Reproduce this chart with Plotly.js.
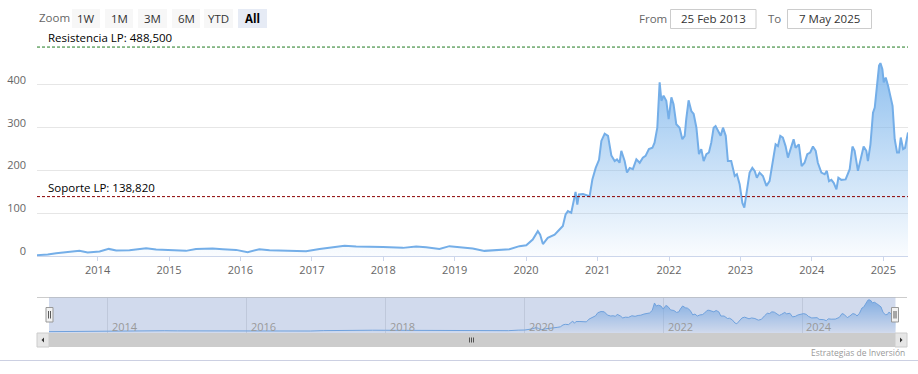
<!DOCTYPE html>
<html>
<head>
<meta charset="utf-8">
<script src="https://cdn.plot.ly/plotly-3.0.1.min.js"></script>
<style>
html,body{margin:0;padding:0;background:#fff;}
#chart{width:918px;height:374px;}
</style>
</head>
<body>
<div id="chart"></div>
<script>
// ---------- DATA ----------
const dates = ['2013-02-25','2013-04-21','2013-06-03','2013-08-10','2013-09-30','2013-11-11','2014-01-11','2014-02-27','2014-04-06','2014-06-13',
'2014-09-06','2014-10-27','2015-01-03','2015-03-29','2015-05-19','2015-08-12','2015-10-03','2015-12-10','2016-02-07','2016-04-07',
'2016-05-29','2016-09-08','2016-12-02','2017-02-09','2017-04-18','2017-06-17','2017-08-15','2017-10-23','2017-12-30','2018-04-11',
'2018-06-18','2018-08-08','2018-10-15','2018-12-05','2019-02-11','2019-04-03','2019-06-02','2019-08-01','2019-10-08','2019-11-28',
'2020-01-02','2020-02-04','2020-03-01','2020-03-13','2020-03-27','2020-04-21','2020-05-26','2020-06-20','2020-07-07','2020-07-21',
'2020-08-02','2020-08-19','2020-08-31','2020-09-10','2020-09-19','2020-09-27','2020-10-18','2020-11-04','2020-11-21','2020-12-05',
'2020-12-22','2021-01-08','2021-01-20','2021-02-06','2021-02-23','2021-03-12','2021-03-29','2021-04-10','2021-04-23','2021-05-02',
'2021-05-19','2021-05-31','2021-06-14','2021-06-30','2021-07-18','2021-08-04','2021-08-20','2021-09-03','2021-09-20','2021-10-08',
'2021-10-19','2021-11-02','2021-11-14','2021-11-23','2021-12-04','2021-12-18','2021-12-30','2022-01-13','2022-01-24','2022-02-07',
'2022-02-24','2022-03-10','2022-03-22','2022-03-30','2022-04-11','2022-04-25','2022-05-07','2022-05-21','2022-06-03','2022-06-15',
'2022-06-27','2022-07-11','2022-07-24','2022-08-05','2022-08-17','2022-08-27','2022-09-08','2022-09-22','2022-10-04','2022-10-18',
'2022-10-29','2022-11-15','2022-12-03','2022-12-14','2022-12-28','2023-01-11','2023-01-21','2023-02-03','2023-02-17','2023-03-03',
'2023-03-15','2023-03-26','2023-04-09','2023-04-26','2023-05-14','2023-05-30','2023-06-16','2023-06-30','2023-07-12','2023-07-24',
'2023-08-06','2023-08-20','2023-09-01','2023-09-13','2023-09-30','2023-10-10','2023-10-27','2023-11-10','2023-11-25','2023-12-09',
'2023-12-24','2024-01-07','2024-01-21','2024-02-01','2024-02-19','2024-03-07','2024-03-18','2024-03-29','2024-04-10','2024-04-22',
'2024-05-06','2024-05-16','2024-05-31','2024-06-22','2024-07-13','2024-07-27','2024-08-07','2024-08-24','2024-09-06','2024-09-22',
'2024-10-06','2024-10-14','2024-10-27','2024-11-09','2024-11-18','2024-11-27','2024-12-10','2024-12-17','2024-12-27','2025-01-03',
'2025-01-13','2025-01-25','2025-02-06','2025-02-17','2025-02-28','2025-03-12','2025-03-22','2025-03-31','2025-04-12','2025-04-22','2025-05-07'];

const values = [2,3.5,6.5,9.6,12,8,10.5,16.6,13,13.6,
18.3,15,13,12,16.6,17.5,16,14.3,9,16,
13.5,13,11.2,16.6,20.6,23.7,22.2,22.2,21.3,19,
22.2,20.6,16.6,23,19,17.5,12,14.3,16,23,
25,38.6,58,50,28,42.4,50,62,70,97,
105,101,128,150,120,144,145,142,140,179,
206,225,269,286,281,235,222,226,218,246,
222,195,206,203,226,218,230,234,250,253,
265,300,406,363,375,363,320,371,355,308,
300,273,281,320,364,339,332,300,238,250,
222,238,242,265,300,304,292,281,300,281,
222,222,187,191,168,124,113,148,195,206,
199,183,195,187,164,175,226,261,257,281,
277,257,230,246,273,253,261,210,218,238,
242,256,246,218,195,191,199,175,178,171,
156,183,178,179,203,256,246,199,222,256,
246,222,261,335,347,382,445,451,437,406,
417,398,371,351,273,242,242,277,250,253,289];

const resistanceValue = 488.5;
const resistanceLabel = 'Resistencia LP: 488,500';
const supportValue = 138.82;
const supportLabel = 'Soporte LP: 138,820';
const yTicks = [0, 100, 200, 300, 400];
const xTickYears = [2014,2015,2016,2017,2018,2019,2020,2021,2022,2023,2024,2025];
const navTickYears = [2014,2016,2018,2020,2022,2024];
const zoomButtons = ['1W','1M','3M','6M','YTD','All'];
const fromDate = '25 Feb 2013';
const toDate = '7 May 2025';
const creditText = 'Estrategias de Inversión';

// ---------- LAYOUT HELPERS (pixel -> paper) ----------
const L = 37, R = 908, T = 40, B = 347;
const X = px => (px - L) / (R - L);
const Y = py => (B - py) / (B - T);
const FONT = 'Open Sans, sans-serif';

const lineColor = '#74aee8';
const grad = {type:'vertical', start:0, stop:451,
  colorscale:[[0,'rgba(124,181,236,0.04)'],[1,'rgba(124,181,236,0.85)']]};

const traces = [
  {x: dates, y: values, type:'scatter', mode:'lines', xaxis:'x', yaxis:'y',
   line:{color:lineColor, width:2}, fill:'tozeroy', fillgradient:grad, hoverinfo:'skip'},
  {x: dates, y: values, type:'scatter', mode:'lines', xaxis:'x2', yaxis:'y2',
   line:{color:lineColor, width:1}, fill:'tozeroy', fillgradient:grad, hoverinfo:'skip'}
];

const shapes = [];
const annotations = [];

// support / resistance lines
shapes.push({type:'line', xref:'paper', yref:'y', x0:0, x1:1, y0:resistanceValue, y1:resistanceValue,
  line:{color:'#1f7a1f', width:1, dash:'3px,2px'}});
shapes.push({type:'line', xref:'paper', yref:'y', x0:0, x1:1, y0:supportValue, y1:supportValue,
  line:{color:'#8b0000', width:1, dash:'3px,2px'}});
annotations.push({xref:'paper', yref:'y', x:X(46), y:resistanceValue, xanchor:'left', yanchor:'bottom', yshift:0,
  text:resistanceLabel, showarrow:false, font:{family:FONT, size:11.5, color:'#000'}});
annotations.push({xref:'paper', yref:'y', x:X(46), y:supportValue, xanchor:'left', yanchor:'bottom', yshift:0,
  text:supportLabel, showarrow:false, font:{family:FONT, size:11.5, color:'#000'}});

// range selector
annotations.push({xref:'paper', yref:'paper', x:X(37), y:Y(18), xanchor:'left', yanchor:'middle',
  text:'Zoom', showarrow:false, font:{family:FONT, size:11.5, color:'#666'}});
const btnX = [[72,100],[105,133],[138,167],[172,200],[204,233],[238,267]];
zoomButtons.forEach((b, i) => {
  const sel = (b === 'All');
  shapes.push({type:'rect', xref:'paper', yref:'paper', x0:X(btnX[i][0]), x1:X(btnX[i][1]), y0:Y(28), y1:Y(9),
    fillcolor: sel ? '#e6ebf5' : '#f7f7f7', line:{width:0}});
  annotations.push({xref:'paper', yref:'paper', x:X((btnX[i][0]+btnX[i][1])/2), y:Y(18.5), xanchor:'center', yanchor:'middle',
    text: sel ? '<b>'+b+'</b>' : b, showarrow:false, font:{family:FONT, size:11.5, color: sel ? '#000' : '#333'}});
});
// from / to inputs
annotations.push({xref:'paper', yref:'paper', x:X(637), y:Y(18.5), xanchor:'left', yanchor:'middle',
  text:'From', showarrow:false, font:{family:FONT, size:11.5, color:'#666'}});
shapes.push({type:'rect', xref:'paper', yref:'paper', x0:X(670.5), x1:X(756), y0:Y(28.5), y1:Y(9.5),
  fillcolor:'#fff', line:{color:'#cccccc', width:1}});
annotations.push({xref:'paper', yref:'paper', x:X(713), y:Y(18.5), xanchor:'center', yanchor:'middle',
  text:fromDate, showarrow:false, font:{family:FONT, size:11.5, color:'#333'}});
annotations.push({xref:'paper', yref:'paper', x:X(766), y:Y(18.5), xanchor:'left', yanchor:'middle',
  text:'To', showarrow:false, font:{family:FONT, size:11.5, color:'#666'}});
shapes.push({type:'rect', xref:'paper', yref:'paper', x0:X(787.5), x1:X(871.5), y0:Y(28.5), y1:Y(9.5),
  fillcolor:'#fff', line:{color:'#cccccc', width:1}});
annotations.push({xref:'paper', yref:'paper', x:X(829.5), y:Y(18.5), xanchor:'center', yanchor:'middle',
  text:toDate, showarrow:false, font:{family:FONT, size:11.5, color:'#333'}});

// navigator axis labels (right of each gridline, near bottom)
navTickYears.forEach(yr => annotations.push({xref:'x2', yref:'paper', x: yr + '-01-01', y:Y(326.5),
  xanchor:'left', yanchor:'middle', xshift:2, text:String(yr), showarrow:false,
  font:{family:FONT, size:11, color:'#999'}}));

// navigator outline, mask, handles
shapes.push({type:'line', xref:'paper', yref:'paper', x0:X(37), x1:X(907), y0:Y(297.5), y1:Y(297.5),
  line:{color:'#cccccc', width:1}});
shapes.push({type:'rect', xref:'paper', yref:'paper', x0:X(49), x1:X(895.5), y0:Y(333), y1:Y(297.5),
  fillcolor:'rgba(102,133,194,0.3)', line:{width:0}, layer:'above'});
[[46,53],[891.5,898.5]].forEach(h => {
  shapes.push({type:'rect', xref:'paper', yref:'paper', x0:X(h[0]), x1:X(h[1]), y0:Y(322), y1:Y(307.5),
    fillcolor:'#f2f2f2', line:{color:'#999999', width:1}});
  const c = (h[0]+h[1])/2;
  [c-1, c+1].forEach(lx => shapes.push({type:'line', xref:'paper', yref:'paper', x0:X(lx), x1:X(lx), y0:Y(318.5), y1:Y(311),
    line:{color:'#333', width:0.8}}));
});

// scrollbar
shapes.push({type:'rect', xref:'paper', yref:'paper', x0:X(37), x1:X(907), y0:Y(347), y1:Y(333),
  fillcolor:'#f2f2f2', line:{width:0}});
shapes.push({type:'rect', xref:'paper', yref:'paper', x0:X(49), x1:X(895), y0:Y(347), y1:Y(333),
  fillcolor:'#cccccc', line:{width:0}});
shapes.push({type:'rect', xref:'paper', yref:'paper', x0:X(37), x1:X(49), y0:Y(347), y1:Y(333),
  fillcolor:'#e6e6e6', line:{color:'#cccccc', width:1}});
shapes.push({type:'rect', xref:'paper', yref:'paper', x0:X(895), x1:X(907), y0:Y(347), y1:Y(333),
  fillcolor:'#e6e6e6', line:{color:'#cccccc', width:1}});
const tri = pts => 'M' + pts.map(p => X(p[0]) + ',' + Y(p[1])).join(' L') + ' Z';
shapes.push({type:'path', xref:'paper', yref:'paper', path:tri([[41.5,340],[44,337.5],[44,342.5]]),
  fillcolor:'#333', line:{width:0}});
shapes.push({type:'path', xref:'paper', yref:'paper', path:tri([[902.5,340],[900,337.5],[900,342.5]]),
  fillcolor:'#333', line:{width:0}});
[469.5, 471.5, 473.5].forEach(gx => shapes.push({type:'line', xref:'paper', yref:'paper', x0:X(gx), x1:X(gx),
  y0:Y(342.5), y1:Y(337.5), line:{color:'#333', width:0.8}}));

// bottom border line + credits
shapes.push({type:'line', xref:'paper', yref:'paper', x0:X(0), x1:X(918), y0:Y(360.5), y1:Y(360.5),
  line:{color:'#ccd0e2', width:1}});
annotations.push({xref:'paper', yref:'paper', x:X(907), y:Y(352.5), xanchor:'right', yanchor:'middle',
  text:creditText, showarrow:false, font:{family:FONT, size:8.5, color:'#999'}});

const layout = {
  width:918, height:374, autosize:false,
  margin:{l:L, r:918-R, t:T, b:374-B, pad:0},
  paper_bgcolor:'#fff', plot_bgcolor:'#fff',
  showlegend:false,
  font:{family:FONT, size:11, color:'#666'},
  xaxis:{type:'date', domain:[0,1], anchor:'y', range:[dates[0], dates[dates.length-1]],
    tickvals: xTickYears.map(y => y + '-01-01'), ticktext: xTickYears.map(String),
    ticks:'outside', ticklen:4, tickcolor:'#ccd6eb', showline:true, linecolor:'#ccd6eb', linewidth:1,
    showgrid:false, zeroline:false, tickfont:{family:FONT, size:11, color:'#666'}, fixedrange:true},
  yaxis:{domain:[(B-256)/(B-T), 1], anchor:'x', range:[0, 505],
    tickvals:yTicks, ticks:'', showgrid:true, gridcolor:'#e6e6e6', gridwidth:1, zeroline:false, showline:false,
    tickfont:{family:FONT, size:11, color:'#666'}, ticklabelstandoff:10, ticklabelshift:-5, fixedrange:true},
  xaxis2:{type:'date', domain:[X(49), X(896)], anchor:'y2', range:[dates[0], dates[dates.length-1]],
    tickvals: navTickYears.map(y => y + '-01-01'), showticklabels:false,
    ticks:'', showgrid:true, gridcolor:'#e6e6e6', showline:false, zeroline:false, fixedrange:true},
  yaxis2:{domain:[Y(333), Y(297.5)], anchor:'x2', range:[-17, 483], showticklabels:false,
    showgrid:false, zeroline:false, showline:false, ticks:'', fixedrange:true},
  shapes: shapes,
  annotations: annotations
};

Plotly.newPlot('chart', traces, layout, {displayModeBar:false, staticPlot:true});
</script>
</body>
</html>
